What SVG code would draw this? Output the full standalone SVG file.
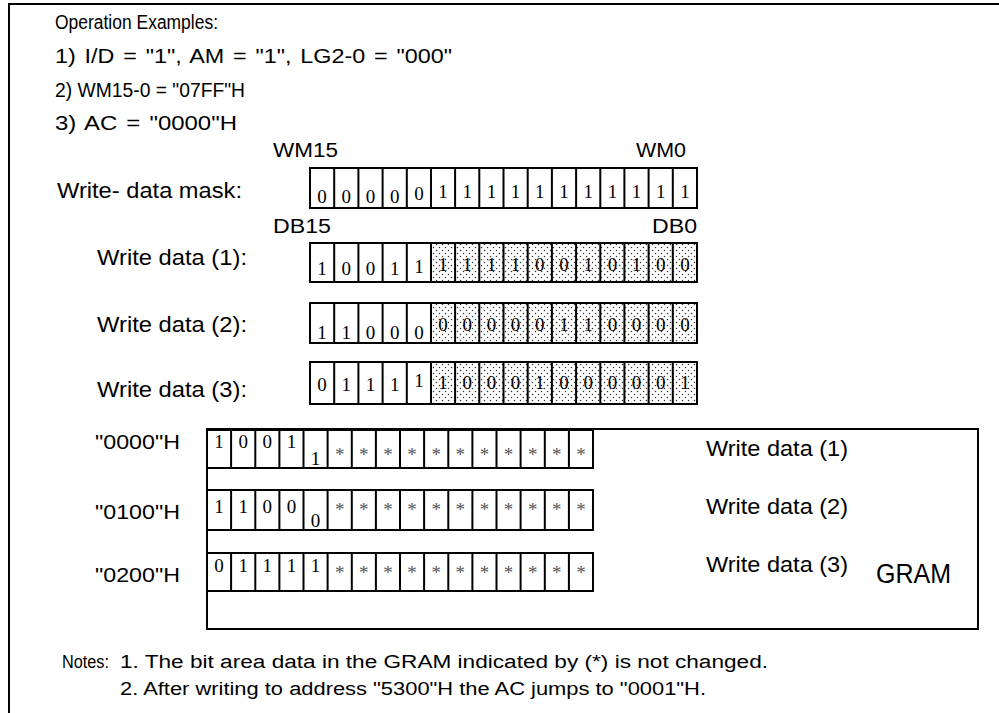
<svg xmlns="http://www.w3.org/2000/svg" width="999" height="713" viewBox="0 0 999 713">
<defs>
<pattern id="dots" width="6" height="6" patternUnits="userSpaceOnUse">
<rect width="6" height="6" fill="#fff"/>
<circle cx="1.5" cy="1.5" r="0.75" fill="#333"/>
<circle cx="4.5" cy="4.5" r="0.75" fill="#333"/>
</pattern>
</defs>
<style>
.t{font-family:"Liberation Sans",Arial,sans-serif;fill:#000}
.d{font-family:"Liberation Serif","Times New Roman",serif;font-size:19px;fill:#000;text-anchor:middle}
.s{font-family:"Liberation Serif","Times New Roman",serif;font-size:19px;fill:#555;text-anchor:middle}
.box{fill:none;stroke:#000;stroke-width:2}
.div{fill:none;stroke:#000;stroke-width:2}
.frame{fill:none;stroke:#000;stroke-width:2}
</style>
<rect width="999" height="713" fill="#fff"/>
<path class="frame" d="M9,713 V4 H999"/>
<g id="header">
<text class="t" x="55" y="29" font-size="19.5" textLength="163" lengthAdjust="spacingAndGlyphs">Operation Examples:</text>
<text class="t" x="55" y="63" font-size="20" word-spacing="2" textLength="397" lengthAdjust="spacingAndGlyphs">1) I/D = "1", AM = "1", LG2-0 = "000"</text>
<text class="t" x="55" y="97" font-size="20" textLength="190" lengthAdjust="spacingAndGlyphs">2) WM15-0 = "07FF"H</text>
<text class="t" x="55" y="130" font-size="20" word-spacing="2" textLength="182" lengthAdjust="spacingAndGlyphs">3) AC = "0000"H</text>
</g>
<g id="labels">
<text class="t" x="273" y="157" font-size="20" textLength="65" lengthAdjust="spacingAndGlyphs">WM15</text>
<text class="t" x="636" y="157" font-size="20" textLength="50" lengthAdjust="spacingAndGlyphs">WM0</text>
<text class="t" x="273" y="233" font-size="20" textLength="58" lengthAdjust="spacingAndGlyphs">DB15</text>
<text class="t" x="652" y="233" font-size="20" textLength="45" lengthAdjust="spacingAndGlyphs">DB0</text>
<text class="t" x="57" y="198" font-size="22" textLength="185" lengthAdjust="spacingAndGlyphs">Write- data mask:</text>
<text class="t" x="97" y="265" font-size="22" textLength="150" lengthAdjust="spacingAndGlyphs">Write data (1):</text>
<text class="t" x="97" y="332" font-size="22" textLength="150" lengthAdjust="spacingAndGlyphs">Write data (2):</text>
<text class="t" x="97" y="397" font-size="22" textLength="150" lengthAdjust="spacingAndGlyphs">Write data (3):</text>
</g>
<g id="mask">
<rect class="box" x="310" y="168" width="387" height="40"/>
<path class="div" d="M334.2,168V208M358.4,168V208M382.6,168V208M406.8,168V208M431,168V208M455.1,168V208M479.3,168V208M503.5,168V208M527.7,168V208M551.9,168V208M576.1,168V208M600.3,168V208M624.4,168V208M648.6,168V208M672.8,168V208"/>
<text class="d" y="203"><tspan x="322.1">0</tspan><tspan x="346.3">0</tspan><tspan x="370.5">0</tspan><tspan x="394.7">0</tspan></text>
<text class="d" x="418.9" y="200">0</text>
<text class="d" y="198"><tspan x="443">1</tspan><tspan x="467.2">1</tspan><tspan x="491.4">1</tspan><tspan x="515.6">1</tspan><tspan x="539.8">1</tspan><tspan x="564">1</tspan><tspan x="588.2">1</tspan><tspan x="612.4">1</tspan><tspan x="636.6">1</tspan><tspan x="660.7">1</tspan><tspan x="684.9">1</tspan></text>
</g>
<g id="wd1">
<rect x="431" y="243" width="266" height="39" fill="url(#dots)"/>
<rect class="box" x="310" y="243" width="387" height="39"/>
<path class="div" d="M334.2,243V282M358.4,243V282M382.6,243V282M406.8,243V282M431,243V282M455.1,243V282M479.3,243V282M503.5,243V282M527.7,243V282M551.9,243V282M576.1,243V282M600.3,243V282M624.4,243V282M648.6,243V282M672.8,243V282"/>
<text class="d" y="275"><tspan x="322.1">1</tspan><tspan x="346.3">0</tspan><tspan x="370.5">0</tspan><tspan x="394.7">1</tspan></text>
<text class="d" x="418.9" y="273">1</text>
<text class="d" y="271"><tspan x="443">1</tspan><tspan x="467.2">1</tspan><tspan x="491.4">1</tspan><tspan x="515.6">1</tspan><tspan x="539.8">0</tspan><tspan x="564">0</tspan><tspan x="588.2">1</tspan><tspan x="612.4">0</tspan><tspan x="636.6">1</tspan><tspan x="660.7">0</tspan><tspan x="684.9">0</tspan></text>
</g>
<g id="wd2">
<rect x="431" y="303" width="266" height="40" fill="url(#dots)"/>
<rect class="box" x="310" y="303" width="387" height="40"/>
<path class="div" d="M334.2,303V343M358.4,303V343M382.6,303V343M406.8,303V343M431,303V343M455.1,303V343M479.3,303V343M503.5,303V343M527.7,303V343M551.9,303V343M576.1,303V343M600.3,303V343M624.4,303V343M648.6,303V343M672.8,303V343"/>
<text class="d" y="339"><tspan x="322.1">1</tspan><tspan x="346.3">1</tspan><tspan x="370.5">0</tspan><tspan x="394.7">0</tspan><tspan x="418.9">0</tspan></text>
<text class="d" y="331"><tspan x="443">0</tspan><tspan x="467.2">0</tspan><tspan x="491.4">0</tspan><tspan x="515.6">0</tspan><tspan x="539.8">0</tspan><tspan x="564">1</tspan><tspan x="588.2">1</tspan><tspan x="612.4">0</tspan><tspan x="636.6">0</tspan><tspan x="660.7">0</tspan><tspan x="684.9">0</tspan></text>
</g>
<g id="wd3">
<rect x="431" y="362" width="266" height="42" fill="url(#dots)"/>
<rect class="box" x="310" y="362" width="387" height="42"/>
<path class="div" d="M334.2,362V404M358.4,362V404M382.6,362V404M406.8,362V404M431,362V404M455.1,362V404M479.3,362V404M503.5,362V404M527.7,362V404M551.9,362V404M576.1,362V404M600.3,362V404M624.4,362V404M648.6,362V404M672.8,362V404"/>
<text class="d" y="391"><tspan x="322.1">0</tspan><tspan x="346.3">1</tspan><tspan x="370.5">1</tspan><tspan x="394.7">1</tspan></text>
<text class="d" x="418.9" y="387">1</text>
<text class="d" y="389"><tspan x="443">1</tspan><tspan x="467.2">0</tspan><tspan x="491.4">0</tspan><tspan x="515.6">0</tspan><tspan x="539.8">1</tspan><tspan x="564">0</tspan><tspan x="588.2">0</tspan><tspan x="612.4">0</tspan><tspan x="636.6">0</tspan><tspan x="660.7">0</tspan><tspan x="684.9">1</tspan></text>
</g>
<g id="gram">
<rect class="box" x="207" y="429" width="771" height="200"/>
<text class="t" x="876" y="583" font-size="27" textLength="75" lengthAdjust="spacingAndGlyphs">GRAM</text>
<text class="t" x="706" y="456" font-size="22" textLength="142" lengthAdjust="spacingAndGlyphs">Write data (1)</text>
<text class="t" x="706" y="514" font-size="22" textLength="142" lengthAdjust="spacingAndGlyphs">Write data (2)</text>
<text class="t" x="706" y="572" font-size="22" textLength="142" lengthAdjust="spacingAndGlyphs">Write data (3)</text>
</g>
<g id="addr">
<text class="t" x="95" y="449" font-size="21" textLength="85" lengthAdjust="spacingAndGlyphs">"0000"H</text>
<text class="t" x="95" y="519" font-size="21" textLength="85" lengthAdjust="spacingAndGlyphs">"0100"H</text>
<text class="t" x="95" y="582" font-size="21" textLength="85" lengthAdjust="spacingAndGlyphs">"0200"H</text>
</g>
<g id="row0000">
<rect class="box" x="207" y="430" width="386" height="38"/>
<path class="div" d="M231.1,430V468M255.3,430V468M279.4,430V468M303.5,430V468M327.6,430V468M351.8,430V468M375.9,430V468M400,430V468M424.1,430V468M448.3,430V468M472.4,430V468M496.5,430V468M520.6,430V468M544.8,430V468M568.9,430V468"/>
<text class="d" y="448"><tspan x="219.1">1</tspan><tspan x="243.2">0</tspan><tspan x="267.3">0</tspan><tspan x="291.4">1</tspan></text>
<text class="d" x="315.6" y="465">1</text>
<text class="s" y="461"><tspan x="339.7">*</tspan><tspan x="363.8">*</tspan><tspan x="387.9">*</tspan><tspan x="412.1">*</tspan><tspan x="436.2">*</tspan><tspan x="460.3">*</tspan><tspan x="484.4">*</tspan><tspan x="508.6">*</tspan><tspan x="532.7">*</tspan><tspan x="556.8">*</tspan><tspan x="580.9">*</tspan></text>
</g>
<g id="row0100">
<rect class="box" x="207" y="490" width="386" height="40"/>
<path class="div" d="M231.1,490V530M255.3,490V530M279.4,490V530M303.5,490V530M327.6,490V530M351.8,490V530M375.9,490V530M400,490V530M424.1,490V530M448.3,490V530M472.4,490V530M496.5,490V530M520.6,490V530M544.8,490V530M568.9,490V530"/>
<text class="d" y="513"><tspan x="219.1">1</tspan><tspan x="243.2">1</tspan><tspan x="267.3">0</tspan><tspan x="291.4">0</tspan></text>
<text class="d" x="315.6" y="527">0</text>
<text class="s" y="516"><tspan x="339.7">*</tspan><tspan x="363.8">*</tspan><tspan x="387.9">*</tspan><tspan x="412.1">*</tspan><tspan x="436.2">*</tspan><tspan x="460.3">*</tspan><tspan x="484.4">*</tspan><tspan x="508.6">*</tspan><tspan x="532.7">*</tspan><tspan x="556.8">*</tspan><tspan x="580.9">*</tspan></text>
</g>
<g id="row0200">
<rect class="box" x="207" y="553" width="386" height="38"/>
<path class="div" d="M231.1,553V591M255.3,553V591M279.4,553V591M303.5,553V591M327.6,553V591M351.8,553V591M375.9,553V591M400,553V591M424.1,553V591M448.3,553V591M472.4,553V591M496.5,553V591M520.6,553V591M544.8,553V591M568.9,553V591"/>
<text class="d" y="572"><tspan x="219.1">0</tspan><tspan x="243.2">1</tspan><tspan x="267.3">1</tspan><tspan x="291.4">1</tspan><tspan x="315.6">1</tspan></text>
<text class="s" y="579"><tspan x="339.7">*</tspan><tspan x="363.8">*</tspan><tspan x="387.9">*</tspan><tspan x="412.1">*</tspan><tspan x="436.2">*</tspan><tspan x="460.3">*</tspan><tspan x="484.4">*</tspan><tspan x="508.6">*</tspan><tspan x="532.7">*</tspan><tspan x="556.8">*</tspan><tspan x="580.9">*</tspan></text>
</g>
<g id="notes">
<text class="t" x="62" y="668" font-size="17.5" textLength="47" lengthAdjust="spacingAndGlyphs">Notes:</text>
<text class="t" x="120" y="668" font-size="18" textLength="648" lengthAdjust="spacingAndGlyphs">1. The bit area data in the GRAM indicated by (*) is not changed.</text>
<text class="t" x="120" y="695" font-size="18" textLength="586" lengthAdjust="spacingAndGlyphs">2. After writing to address "5300"H the AC jumps to "0001"H.</text>
</g>
</svg>
